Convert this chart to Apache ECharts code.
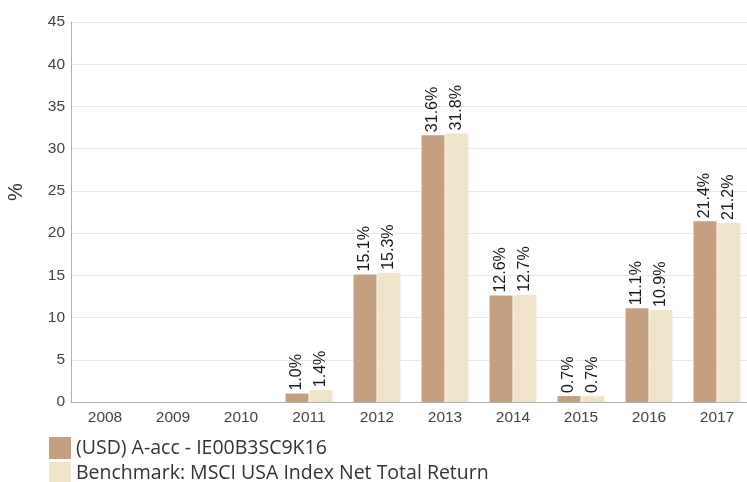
<!DOCTYPE html>
<html>
<head>
<meta charset="utf-8">
<script src="https://cdn.jsdelivr.net/npm/echarts@6/dist/echarts.min.js"></script>
<style>
html,body{margin:0;padding:0;background:#fff;}
#chart{width:747px;height:482px;}
</style>
</head>
<body>
<div id="chart"></div>
<script>
var categories = ['2008','2009','2010','2011','2012','2013','2014','2015','2016','2017'];
var fundValues = [null, null, null, 1.0, 15.1, 31.6, 12.6, 0.7, 11.1, 21.4];
var benchValues = [null, null, null, 1.4, 15.3, 31.8, 12.7, 0.7, 10.9, 21.2];
var seriesNames = ['(USD) A-acc - IE00B3SC9K16', 'Benchmark: MSCI USA Index Net Total Return'];
var yTicks = {min: 0, max: 45, interval: 5};

var chart = echarts.init(document.getElementById('chart'), null, {renderer: 'canvas'});
var labelOpt = {
  show: true,
  position: 'top',
  rotate: 90,
  align: 'left',
  verticalAlign: 'middle',
  distance: 3,
  fontFamily: 'Liberation Sans, Arial, sans-serif',
  fontSize: 16,
  color: '#1a1a1a',
  formatter: function (p) { return p.value == null ? '' : p.value.toFixed(1) + '%'; }
};
var legendBase = {
  orient: 'vertical',
  left: 49,
  itemWidth: 22,
  itemHeight: 22,
  itemGap: 4,
  padding: 0,
  icon: 'rect',
  textStyle: {fontFamily: 'Open Sans, Noto Sans, sans-serif', fontSize: 19.5, color: '#333'}
};
chart.setOption({
  animation: false,
  backgroundColor: '#fff',
  grid: {left: 71, top: 22, right: -4, bottom: 80, containLabel: false, outerBoundsMode: 'none'},
  legend: [
    Object.assign({}, legendBase, {top: 437, data: [seriesNames[0]]}),
    Object.assign({}, legendBase, {top: 462, data: [seriesNames[1]]})
  ],
  xAxis: {
    type: 'category',
    data: categories,
    axisLine: {lineStyle: {color: '#b0b0b0', width: 1}},
    axisTick: {show: false},
    axisLabel: {fontFamily: 'Liberation Sans, Arial, sans-serif', fontSize: 15.5, color: '#444', margin: 8}
  },
  yAxis: {
    type: 'value',
    min: yTicks.min,
    max: yTicks.max,
    interval: yTicks.interval,
    name: '%',
    nameLocation: 'middle',
    nameGap: 45,
    nameTextStyle: {fontFamily: 'Liberation Sans, Arial, sans-serif', fontSize: 20, color: '#333', padding: [0, 0, 0, 40]},
    axisLine: {show: true, lineStyle: {color: '#b0b0b0', width: 1}},
    axisTick: {show: false},
    axisLabel: {fontFamily: 'Liberation Sans, Arial, sans-serif', fontSize: 15.5, color: '#444', margin: 6},
    splitLine: {lineStyle: {color: '#e8e8e8', width: 1}}
  },
  series: [
    {
      name: seriesNames[0],
      type: 'bar',
      data: fundValues,
      barWidth: 23,
      barGap: '4%',
      itemStyle: {color: '#c4a080'},
      label: labelOpt
    },
    {
      name: seriesNames[1],
      type: 'bar',
      data: benchValues,
      barWidth: 23,
      barGap: '4%',
      itemStyle: {color: '#efe3c9'},
      label: labelOpt
    }
  ]
});
</script>
</body>
</html>
